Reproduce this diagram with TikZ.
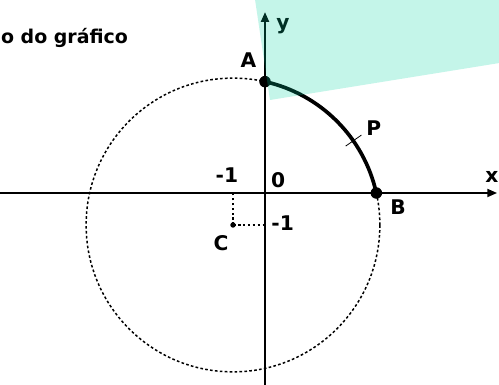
\documentclass[tikz,border=0pt]{standalone}
\usepackage{fontspec}
\setmainfont{DejaVu Sans}
\usetikzlibrary{arrows.meta,calc}
\definecolor{mint}{RGB}{0,210,160}
\begin{document}
\begin{tikzpicture}[x=0.64cm, y=0.64cm, >={Triangle[length=5.5pt,width=4.6pt]},
  lbl/.style={font=\fontsize{11.5}{13}\selectfont\bfseries, inner sep=0pt},
  dots/.style={line width=0.85pt, dash pattern=on 1.5pt off 1.3pt}]
  \useasboundingbox (-8.281,-6.0) rectangle (7.3125,6.031);

  \coordinate (O) at (0,0);
  \coordinate (C) at (-1,-1);
  \coordinate (A) at (0,3.48);
  \coordinate (B) at (3.48,0);
  \coordinate (Cx) at (-1,0);
  \coordinate (Cy) at (0,-1);

  \draw[line width=0.9pt, ->] (-8.3,0) -- (7.25,0);
  \draw[line width=0.9pt, ->] (0,-6.1) -- (0,5.65);

  \draw[dots] (C) circle (4.59);
  \draw[dots] (C) -- (Cx);
  \draw[dots] (C) -- (Cy);

  \draw[line width=2.1pt] (A) arc (77.4:12.6:4.59);
  \draw[line width=0.45pt] ($(C)+(35:4.3)$) -- ($(C)+(35:4.9)$);

  \fill (A) circle (0.18);
  \fill (B) circle (0.18);
  \fill (C) circle (0.085);

  \node[lbl] (lA) at (-0.52,4.14) {A};
  \node[lbl] (lP) at (3.4,2.03) {P};
  \node[lbl] (lB) at (4.16,-0.44) {B};
  \node[lbl] (lC) at (-1.375,-1.56) {C};
  \node[lbl] (l0) at (0.41,0.41) {0};
  \node[lbl] (lxm) at (-1.19,0.56) {-1};
  \node[lbl] (lym) at (0.55,-0.94) {-1};
  \node[lbl] (lx) at (7.09,0.5) {x};
  \node[lbl] (ly) at (0.56,5.2) {y};

  \node[lbl, font=\fontsize{10.8}{13}\selectfont\bfseries, anchor=base west] (title) at (-8.26,4.66) {o do gráfico};

  \fill[mint, opacity=0.23] (-0.3125,6.05) -- (0.156,2.906) -- (7.33,4.0625) -- (7.33,6.05) -- cycle;
\end{tikzpicture}
\end{document}
